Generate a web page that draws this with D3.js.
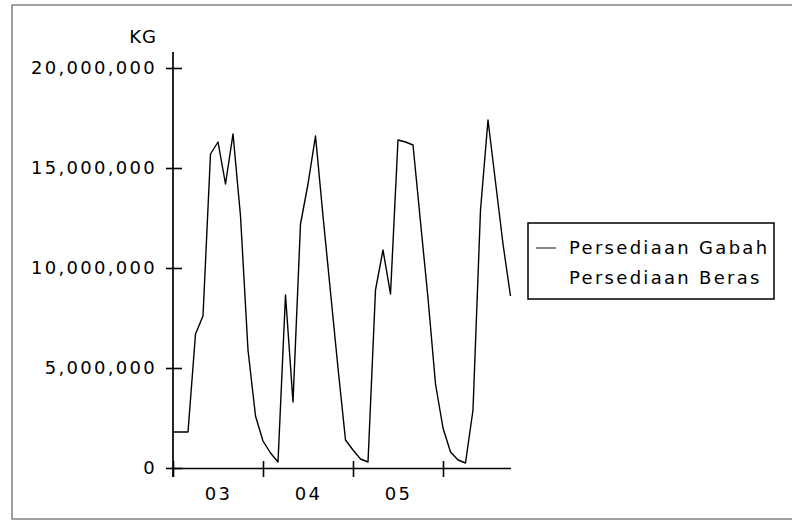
<!DOCTYPE html>
<html>
<head>
<meta charset="utf-8">
<script src="https://cdn.jsdelivr.net/npm/d3@7"></script>
<style>
  body { margin: 0; background: #fff; }
  svg text { font-family: "DejaVu Sans", Verdana, sans-serif; fill: #000; }
</style>
</head>
<body>
<svg id="canvas"></svg>
<script>
// monthly stock, Jan 2003 .. Oct 2006 (KG)
let gabah = [
  1800000, 1800000, 1800000, 6700000, 7600000, 15700000, 16300000, 14200000, 16700000, 12600000, 5900000, 2600000,
  1350000, 750000, 300000, 8650000, 3300000, 12200000, 14200000, 16600000, 12600000, 8800000, 5000000, 1400000,
  900000, 450000, 300000, 8900000, 10900000, 8700000, 16400000, 16300000, 16150000, 12300000, 8500000, 4200000,
  2000000, 800000, 400000, 250000, 2900000, 12900000, 17400000, 14300000, 11200000, 8600000
]
let yearTicks = [0, 12, 24, 36]
let yearLabelPos = [6, 18, 30]
let yearLabels = ['03', '04', '05']
let yTicks = [0, 5000000, 10000000, 15000000, 20000000]
let seriesNames = ['Persediaan Gabah', 'Persediaan Beras']

let width = 792
let height = 521

let svg = d3.select('#canvas').attr('width', width).attr('height', height)

// scanned page frame
svg.append('rect')
   .attr('x', 12).attr('y', 5).attr('width', 800).attr('height', 514)
   .attr('fill', 'none').attr('stroke', '#444').attr('stroke-width', 1)

let xScale = d3.scaleLinear().domain([0, gabah.length - 1]).range([173, 510.5])
let yScale = d3.scaleLinear().domain([0, 20000000]).range([468, 68])

// y axis
let yAxis = d3.axisLeft(yScale)
              .tickValues(yTicks)
              .tickFormat(d3.format(','))
              .tickSize(7)
              .tickPadding(9)

let gy = svg.append('g').attr('transform', 'translate(173,0)').call(yAxis)
gy.select('.domain').remove()
gy.selectAll('.tick line').attr('x1', 9).attr('x2', -7).attr('stroke', '#000').attr('stroke-width', 1.6)
gy.selectAll('.tick text').style('font-size', '18px').style('letter-spacing', '2.3px')

svg.append('line')
   .attr('x1', 173).attr('x2', 173).attr('y1', 52).attr('y2', 477)
   .attr('stroke', '#000').attr('stroke-width', 1.7)

svg.append('text')
   .attr('x', 157).attr('y', 42.5)
   .attr('text-anchor', 'end')
   .style('font-size', '18px').style('letter-spacing', '1px')
   .text('KG')

// x axis
let xAxis = d3.axisBottom(xScale).tickValues(yearTicks).tickFormat('').tickSizeInner(8).tickSizeOuter(0)
let gx = svg.append('g').attr('transform', 'translate(0,468)').call(xAxis)
gx.select('.domain').attr('stroke', '#000').attr('stroke-width', 1.7)
gx.selectAll('.tick line').attr('y1', -7).attr('y2', 9).attr('stroke', '#000').attr('stroke-width', 1.6)

let xLabelAxis = d3.axisBottom(xScale)
                   .tickValues(yearLabelPos)
                   .tickFormat((d, i) => yearLabels[i])
                   .tickSize(0)
                   .tickPadding(19)
let gxl = svg.append('g').attr('transform', 'translate(0,468)').call(xLabelAxis)
gxl.select('.domain').remove()
gxl.selectAll('.tick text').style('font-size', '18px').style('letter-spacing', '2.3px')

// line
let line = d3.line()
             .x((d, i) => xScale(i))
             .y(d => yScale(d))

svg.append('path')
   .datum(gabah)
   .attr('d', line)
   .attr('fill', 'none')
   .attr('stroke', '#000')
   .attr('stroke-width', 1.4)
   .attr('stroke-linejoin', 'round')

// legend
let legend = svg.append('g')
legend.append('rect')
      .attr('x', 528).attr('y', 223).attr('width', 246).attr('height', 76)
      .attr('fill', '#fff').attr('stroke', '#000').attr('stroke-width', 1.5)

legend.append('line')
      .attr('x1', 536).attr('x2', 556).attr('y1', 248).attr('y2', 248)
      .attr('stroke', '#333').attr('stroke-width', 1.2)

legend.selectAll('text.entry')
      .data(seriesNames)
      .enter()
      .append('text')
      .attr('class', 'entry')
      .attr('x', 569)
      .attr('y', (d, i) => 254 + i * 30)
      .style('font-size', '18px')
      .style('letter-spacing', '2.3px')
      .text(d => d)
</script>
</body>
</html>
